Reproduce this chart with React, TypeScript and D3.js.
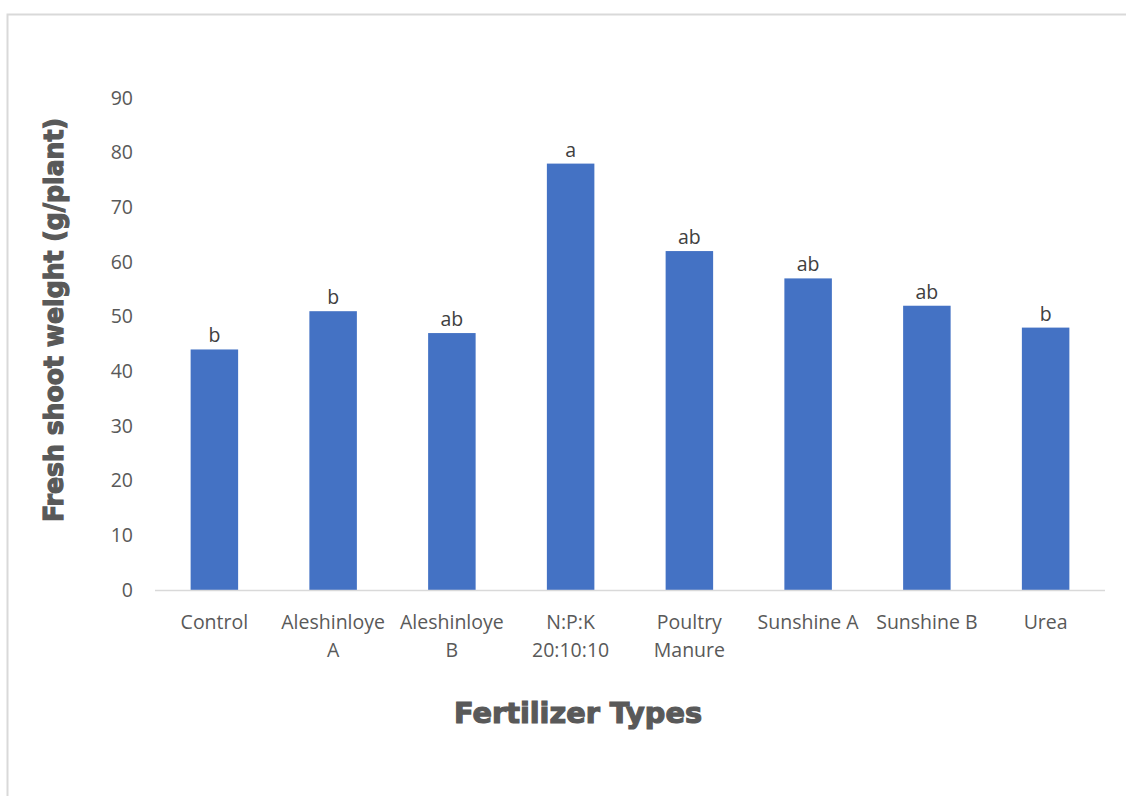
import React, { useRef, useEffect } from 'react';
import * as d3 from 'd3';

const categories = [
  ['Control'],
  ['Aleshinloye', 'A'],
  ['Aleshinloye', 'B'],
  ['N:P:K', '20:10:10'],
  ['Poultry', 'Manure'],
  ['Sunshine A'],
  ['Sunshine B'],
  ['Urea'],
];
const values = [44, 51, 47, 78, 62, 57, 52, 48];
const letters = ['b', 'b', 'ab', 'a', 'ab', 'ab', 'ab', 'b'];
const yTicks = [0, 10, 20, 30, 40, 50, 60, 70, 80, 90];

function App() {
  const ref = useRef<SVGSVGElement | null>(null);

  useEffect(() => {
    const width = 1126;
    const height = 796;
    const svg = d3.select(ref.current);
    svg.selectAll('*').remove();

    const font = 'Open Sans, Calibri, sans-serif';
    const heavy = '"DejaVu Sans", Arial Black, sans-serif';

    // chart frame
    svg.append('path')
      .attr('d', `M7.5,${height} L7.5,14.5 L${width},14.5`)
      .attr('fill', 'none')
      .attr('stroke', '#d9d9d9')
      .attr('stroke-width', 2);

    const ids = categories.map((c, i) => String(i));
    const x = d3.scaleBand()
      .domain(ids)
      .range([155, 1105])
      .paddingInner(0.6)
      .paddingOuter(0.3);

    const y = d3.scaleLinear()
      .domain([0, 90])
      .range([590, 98]);

    // y tick labels
    svg.append('g')
      .selectAll('text')
      .data(yTicks)
      .join('text')
      .attr('x', 133)
      .attr('y', d => y(d))
      .attr('dy', '0.35em')
      .attr('text-anchor', 'end')
      .attr('font-family', font)
      .attr('font-size', 19.5)
      .attr('fill', '#595959')
      .text(d => d);

    // bars
    svg.append('g')
      .selectAll('rect')
      .data(values)
      .join('rect')
      .attr('x', (d, i) => x(String(i)) as number)
      .attr('y', d => y(d))
      .attr('width', x.bandwidth())
      .attr('height', d => y(0) - y(d))
      .attr('fill', '#4472c4');

    // baseline
    svg.append('line')
      .attr('x1', 155)
      .attr('x2', 1105)
      .attr('y1', y(0) + 0.5)
      .attr('y2', y(0) + 0.5)
      .attr('stroke', '#d9d9d9')
      .attr('stroke-width', 1.5);

    // significance letters
    svg.append('g')
      .selectAll('text')
      .data(values)
      .join('text')
      .attr('x', (d, i) => (x(String(i)) as number) + x.bandwidth() / 2)
      .attr('y', d => y(d) - 7)
      .attr('text-anchor', 'middle')
      .attr('font-family', font)
      .attr('font-size', 19.5)
      .attr('fill', '#404040')
      .text((d, i) => letters[i]);

    // category labels
    const cat = svg.append('g')
      .selectAll('text')
      .data(categories)
      .join('text')
      .attr('x', (d, i) => (x(String(i)) as number) + x.bandwidth() / 2)
      .attr('y', 629)
      .attr('text-anchor', 'middle')
      .attr('font-family', font)
      .attr('font-size', 19.5)
      .attr('fill', '#595959');
    cat.selectAll('tspan')
      .data(d => d)
      .join('tspan')
      .attr('x', function () {
        return (this.parentNode as SVGTextElement).getAttribute('x');
      })
      .attr('dy', (d, i) => (i === 0 ? 0 : 28))
      .text(d => d);

    // axis titles
    svg.append('text')
      .attr('transform', 'translate(63,320) rotate(-90)')
      .attr('text-anchor', 'middle')
      .attr('font-family', heavy)
      .attr('font-weight', 900)
      .attr('font-size', 26)
      .attr('fill', '#595959')
      .attr('stroke', '#595959')
      .attr('stroke-width', 1.2)
      .attr('textLength', 404)
      .attr('lengthAdjust', 'spacingAndGlyphs')
      .text('Fresh shoot weight (g/plant)');

    svg.append('text')
      .attr('x', 578)
      .attr('y', 723)
      .attr('text-anchor', 'middle')
      .attr('font-family', heavy)
      .attr('font-weight', 900)
      .attr('font-size', 29)
      .attr('fill', '#595959')
      .attr('stroke', '#595959')
      .attr('stroke-width', 1.2)
      .attr('textLength', 248)
      .attr('lengthAdjust', 'spacingAndGlyphs')
      .text('Fertilizer Types');
  }, []);

  return (
    <svg
      ref={ref}
      width={1126}
      height={796}
      style={{ position: 'absolute', left: 0, top: 0, background: '#fff' }}
    />
  );
}

export default App;
